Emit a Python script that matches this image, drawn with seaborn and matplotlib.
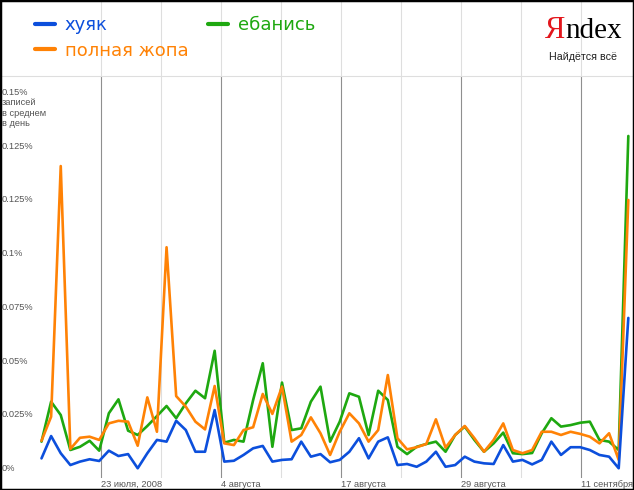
import numpy as np
import pandas as pd
import matplotlib
matplotlib.use("Agg")
import matplotlib.pyplot as plt
import seaborn as sns
from matplotlib.lines import Line2D
from matplotlib.patches import Rectangle
from matplotlib.transforms import blended_transform_factory

# daily share of posts, % (17 Jul - 16 Sep 2008)
days = list(range(62))

khuyak = [0.0068, 0.0172, 0.0092, 0.0037, 0.0053, 0.0064, 0.0056, 0.0104, 0.0079, 0.0088,
          0.0022, 0.0092, 0.0154, 0.0146, 0.0243, 0.0200, 0.0099, 0.0099, 0.0293, 0.0053,
          0.0057, 0.0084, 0.0115, 0.0126, 0.0053, 0.0061, 0.0064, 0.0146, 0.0076, 0.0088,
          0.0050, 0.0061, 0.0099, 0.0162, 0.0068, 0.0146, 0.0166, 0.0037, 0.0042, 0.0029,
          0.0053, 0.0099, 0.0029, 0.0037, 0.0076, 0.0053, 0.0045, 0.0042, 0.0130, 0.0053,
          0.0061, 0.0040, 0.0061, 0.0146, 0.0084, 0.0120, 0.0120, 0.0107, 0.0084, 0.0076,
          0.0022, 0.0722]

ebanis = [0.0146, 0.0332, 0.0270, 0.0107, 0.0122, 0.0150, 0.0104, 0.0278, 0.0343, 0.0197,
          0.0177, 0.0219, 0.0265, 0.0312, 0.0255, 0.0324, 0.0383, 0.0348, 0.0569, 0.0141,
          0.0154, 0.0146, 0.0340, 0.0511, 0.0122, 0.0421, 0.0200, 0.0208, 0.0332, 0.0402,
          0.0146, 0.0239, 0.0371, 0.0355, 0.0177, 0.0383, 0.0340, 0.0122, 0.0088, 0.0122,
          0.0135, 0.0146, 0.0099, 0.0177, 0.0216, 0.0154, 0.0099, 0.0138, 0.0188, 0.0092,
          0.0088, 0.0093, 0.0185, 0.0255, 0.0216, 0.0223, 0.0234, 0.0239, 0.0154, 0.0146,
          0.0107, 0.1569]

zhopa = [0.0150, 0.0262, 0.1429, 0.0112, 0.0164, 0.0169, 0.0154, 0.0231, 0.0243, 0.0239,
         0.0127, 0.0352, 0.0192, 0.1051, 0.0358, 0.0309, 0.0239, 0.0203, 0.0405, 0.0138,
         0.0130, 0.0200, 0.0213, 0.0368, 0.0275, 0.0402, 0.0146, 0.0177, 0.0259, 0.0185,
         0.0084, 0.0192, 0.0278, 0.0231, 0.0146, 0.0200, 0.0456, 0.0162, 0.0110, 0.0120,
         0.0135, 0.0250, 0.0118, 0.0177, 0.0219, 0.0162, 0.0099, 0.0154, 0.0231, 0.0107,
         0.0092, 0.0107, 0.0192, 0.0192, 0.0177, 0.0192, 0.0182, 0.0169, 0.0138, 0.0185,
         0.0061, 0.1271]

x_labels = ["23 июля, 2008", "4 августа", "17 августа", "29 августа", "11 сентября"]
y_ticks = [0, 0.025, 0.05, 0.075, 0.1, 0.125, 0.15]
y_labels = ["0%", "0.025%", "0.05%", "0.075%", "0.1%", "0.125%", "0.125%"]
y_top = 0.175
y_top_label = "0.15%"
y_caption = "записей\nв среднем\nв день"

colors = {"хуяк": "#0c4fdc", "ебанись": "#1ea810", "полная жопа": "#ff8205"}
draw_order = ["ебанись", "полная жопа", "хуяк"]
legend_order = ["хуяк", "полная жопа", "ебанись"]

df = pd.concat([
    pd.DataFrame({"day": days, "value": khuyak, "series": "хуяк"}),
    pd.DataFrame({"day": days, "value": ebanis, "series": "ебанись"}),
    pd.DataFrame({"day": days, "value": zhopa, "series": "полная жопа"}),
])

sns.set_style("white")
plt.rcParams["font.family"] = ["Liberation Sans", "DejaVu Sans"]

W, H = 634, 490
fig = plt.figure(figsize=(W / 100, H / 100), dpi=100)
ax = fig.add_axes([0, 12 / H, 1, 478 / H])

sns.lineplot(data=df, x="day", y="value", hue="series", hue_order=draw_order,
             palette=colors, linewidth=1.9, legend=False, ax=ax, zorder=3)
for ln in ax.lines:
    ln.set_solid_joinstyle("round")
    ln.set_solid_capstyle("round")

# pixel-ish layout: point k sits at 41.5 + 9.62*k px, zero at 473 px from top
ax.set_xlim(-41.5 / 9.62, (W - 41.5) / 9.62)
ax.set_ylim(-5 / 2148, 473 / 2148)

major = 6.185 + 12.475 * np.arange(5)
minor = major[:-1] + 12.475 / 2
split = (478 - 76) / 478
for xv in major:
    ax.axvline(xv, ymin=0, ymax=split, color="#8f8f8f", lw=0.8, zorder=1)
    ax.axvline(xv, ymin=split, ymax=1, color="#dedede", lw=0.8, zorder=1)
for xv in minor:
    ax.axvline(xv, color="#dedede", lw=0.8, zorder=1)
ax.axhline(397 / 2148, color="#dedede", lw=0.8, zorder=1)

ax.set_xticks(major)
ax.set_xticklabels(x_labels, ha="left")
ax.tick_params(axis="x", length=0, pad=1.5, labelsize=6.7, labelcolor="#555555")
ax.set_yticks([])
ax.set_xlabel("")
ax.set_ylabel("")
for s in ax.spines.values():
    s.set_visible(False)

tr = blended_transform_factory(ax.transAxes, ax.transData)
for v, lab in zip(y_ticks, y_labels):
    ax.text(2 / W, v, lab, transform=tr, va="bottom", ha="left", fontsize=6.7, color="#555555")
ax.text(2 / W, y_top, y_top_label, transform=tr, va="bottom", ha="left", fontsize=6.7, color="#555555")
ax.text(2 / W, y_top - 0.0005, y_caption, transform=tr, va="top", ha="left", fontsize=6.7,
        color="#555555", linespacing=1.2)

handles = [Line2D([], [], color=colors[n], lw=3) for n in legend_order]
leg = fig.legend(handles, legend_order, ncol=2, loc="upper left",
                 bbox_to_anchor=(35 / W, 1 - 16 / H), frameon=False,
                 prop={"family": "DejaVu Sans", "size": 13}, handlelength=1.1,
                 handletextpad=0.55, columnspacing=1.1, labelspacing=0.42,
                 borderpad=0, borderaxespad=0)
for t, n in zip(leg.get_texts(), legend_order):
    t.set_color(colors[n])

# Yandex logo
fig.text(545 / W, 1 - 38 / H, "Я", color="#e3161c", family="Liberation Serif",
         fontsize=22, ha="left", va="baseline")
fig.text(565 / W, 1 - 38 / H, "ndex", color="black", family="Liberation Serif",
         fontsize=21, ha="left", va="baseline")
fig.text(583 / W, 1 - 57 / H, "Найдётся всё", color="#222222", fontsize=7.7,
         ha="center", va="center")

fig.patches.append(Rectangle((0, 0), 1, 1, transform=fig.transFigure, fill=False,
                             ec="black", lw=2.5, zorder=10))

fig.savefig("out.png", dpi=100)
